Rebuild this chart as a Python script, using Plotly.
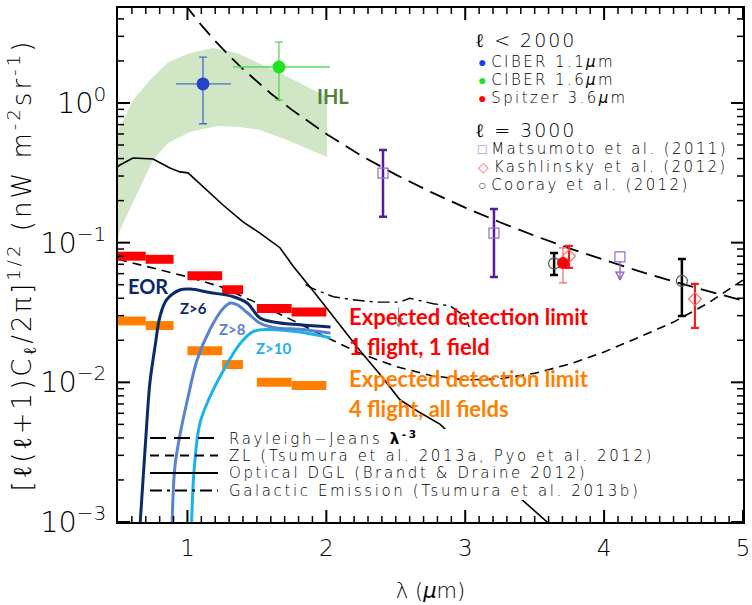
import numpy as np
import plotly.graph_objects as go

# ---------------- data ----------------
# Rayleigh-Jeans lambda^-3
rj_lam = [0.98, 1.0, 1.1, 1.2, 1.3, 1.4, 1.5, 1.6, 1.75, 2.0, 2.25, 2.5, 2.75, 3.0,
          3.25, 3.5, 3.75, 4.0, 4.25, 4.5, 4.75, 5.0]
rj_val = [5.1, 4.8, 3.61, 2.78, 2.18, 1.75, 1.42, 1.17, 0.896, 0.60, 0.42, 0.307,
          0.231, 0.178, 0.140, 0.112, 0.091, 0.075, 0.0625, 0.0527, 0.0448, 0.0384]

# Zodiacal light
zl_lam = [0.5, 0.75, 1.0, 1.25, 1.5, 1.75, 2.0, 2.25, 2.5, 2.75, 3.0, 3.25, 3.5,
          3.75, 4.0, 4.25, 4.5, 4.75, 5.0]
zl_val = [0.076, 0.066, 0.057, 0.048, 0.037, 0.028, 0.021, 0.016, 0.013, 0.0112,
          0.0104, 0.0106, 0.0116, 0.0135, 0.0165, 0.021, 0.027, 0.037, 0.054]

# Optical DGL
dgl_lam = [0.5, 0.514, 0.608, 0.752, 0.874, 0.946, 1.004, 1.112, 1.256, 1.40, 1.522,
           1.666, 1.76, 1.93, 2.10, 2.24, 2.39, 2.53, 2.67, 2.82, 3.1, 3.47, 3.59]
dgl_val = [0.35, 0.36, 0.404, 0.397, 0.342, 0.321, 0.316, 0.25, 0.186, 0.141, 0.117,
           0.092, 0.068, 0.042, 0.0258, 0.017, 0.0113, 0.0075, 0.0061, 0.005, 0.0027,
           0.00129, 0.001]

# Galactic emission
ge_lam = [1.85, 1.90, 2.05, 2.19, 2.36, 2.53, 2.60, 2.77, 2.89, 2.98, 3.03]
ge_val = [0.050, 0.047, 0.041, 0.039, 0.0375, 0.0375, 0.040, 0.0365, 0.0354, 0.0305, 0.0249]

# IHL band (upper edge left->right, then lower edge right->left)
ihl_lam = [0.5, 0.514, 0.608, 0.730, 0.860, 1.018, 1.184, 1.357, 1.573, 1.81, 2.005,
           2.005, 1.717, 1.522, 1.378, 1.213, 1.018, 0.860, 0.752, 0.658, 0.514, 0.5]
ihl_val = [0.60, 0.673, 1.05, 1.46, 1.96, 2.28, 2.48, 2.28, 1.81, 1.39, 1.10,
           0.41, 0.543, 0.641, 0.673, 0.685, 0.62, 0.517, 0.391, 0.25, 0.123, 0.105]

# EOR model curves
eor_lam = [0.66, 0.71, 0.73, 0.77, 0.80, 0.85, 0.95, 1.02, 1.16, 1.33, 1.43, 1.52,
           1.62, 1.81, 2.03]
eor_val = [0.001, 0.0056, 0.010, 0.019, 0.029, 0.039, 0.046, 0.0465, 0.044, 0.041,
           0.037, 0.029, 0.027, 0.0258, 0.0249]
z8_lam = [0.89, 0.91, 0.95, 1.0, 1.07, 1.16, 1.26, 1.31, 1.36, 1.43, 1.52, 1.64, 1.81, 2.03]
z8_val = [0.001, 0.0025, 0.0044, 0.0075, 0.0145, 0.0237, 0.034, 0.037, 0.0358, 0.0316,
          0.0266, 0.0245, 0.024, 0.0225]
z10_lam = [1.03, 1.05, 1.09, 1.16, 1.26, 1.38, 1.47, 1.57, 1.81, 2.03]
z10_val = [0.001, 0.0025, 0.0051, 0.0078, 0.0122, 0.019, 0.023, 0.0239, 0.0229, 0.0208]

# Expected detection limits (bands)
lim_lo = [0.5, 0.7, 1.0, 1.25, 1.5, 1.75]
lim_hi = [0.7, 0.9, 1.25, 1.4, 1.75, 2.0]
lim_1flight = [0.080, 0.076, 0.058, 0.046, 0.0338, 0.0319]
lim_4flight = [0.0275, 0.0255, 0.0168, 0.0134, 0.0100, 0.0095]

# CIBER (l < 2000)
ciber11 = dict(x=1.112, y=1.37, xlo=0.918, xhi=1.314, ylo=0.71, yhi=2.13)
ciber16 = dict(x=1.659, y=1.81, xlo=1.328, xhi=2.026, ylo=1.05, yhi=2.73)
# Spitzer 3.6um
spitzer = dict(x=3.704, y=0.0716, ylo=0.0516, yhi=0.0917)

# l = 3000
mats_lam = [2.408, 3.207]
mats_val = [0.315, 0.117]
mats_lo = [0.153, 0.0568]
mats_hi = [0.461, 0.174]
mats_ul_lam = [4.114]
mats_ul_val = [0.079]
mats_ul_tip = [0.054]

kash_lam = [3.747, 4.654]
kash_val = [0.080, 0.0395]
kash_lo = [0.066, 0.0245]
kash_hi = [0.0947, 0.0506]

coo_lam = [3.64, 4.56]
coo_val = [0.071, 0.0532]
coo_lo = [0.0587, 0.0299]
coo_hi = [0.0844, 0.0764]

ge_ul_lam = [2.52]
ge_ul_val = [0.037]
ge_ul_tip = [0.025]

# axis ticks
x_major = [1, 2, 3, 4, 5]
x_minor_step = 0.1
y_decades = [-3, -2, -1, 0]
y_minor_mult = [2, 3, 4, 5, 6, 7, 8, 9]

# legend texts
pt_legend = [
    ("ℓ < 2000", None, None),
    ("CIBER 1.1<i>μ</i>m", "●", "#1a3cf0"),
    ("CIBER 1.6<i>μ</i>m", "●", "#22e022"),
    ("Spitzer 3.6<i>μ</i>m", "●", "#ff0000"),
    ("ℓ = 3000", None, None),
    ("Matsumoto et al. (2011)", "□", "#9a6ad0"),
    ("Kashlinsky et al. (2012)", "◇", "#ff6a6a"),
    ("Cooray et al. (2012)", "○", "#555555"),
]
line_legend = [
    ("Rayleigh−Jeans <b>λ<sup>-3</sup></b>", "16px,8px"),
    ("ZL (Tsumura et al. 2013a, Pyo et al. 2012)", "9px,6px"),
    ("Optical DGL (Brandt & Draine 2012)", "solid"),
    ("Galactic Emission (Tsumura et al. 2013b)", "12px,5px,3px,5px"),
]

# ---------------- figure ----------------
FONT = "DejaVu Sans"
FW = 300
PX0, PX1, PY0, PY1 = 118, 743, 8, 522
XR = [0.5, 5.0]
YR = [-3, 0.68]
H = PY1 - PY0
W = PX1 - PX0


def px(x):
    return (x - PX0) / W


def py(y):
    return (PY1 - y) / H


fig = go.Figure()


def bands(lo, hi, vals):
    xs, ys = [], []
    for a, b, v in zip(lo, hi, vals):
        xs += [a, b, None]
        ys += [v, v, None]
    return xs, ys


# IHL band
fig.add_trace(go.Scatter(x=ihl_lam, y=ihl_val, mode="lines", fill="toself",
                         fillcolor="rgba(170,210,150,0.55)", line=dict(width=0),
                         hoverinfo="skip"))

# model lines
fig.add_trace(go.Scatter(x=rj_lam, y=rj_val, mode="lines",
                         line=dict(color="black", width=1.8, dash=line_legend[0][1])))
fig.add_trace(go.Scatter(x=zl_lam, y=zl_val, mode="lines",
                         line=dict(color="black", width=1.6, dash=line_legend[1][1])))
fig.add_trace(go.Scatter(x=dgl_lam, y=dgl_val, mode="lines",
                         line=dict(color="black", width=1.6)))
fig.add_trace(go.Scatter(x=ge_lam, y=ge_val, mode="lines",
                         line=dict(color="black", width=1.4, dash=line_legend[3][1])))

# detection-limit bands
bx, by = bands(lim_lo, lim_hi, lim_1flight)
fig.add_trace(go.Scatter(x=bx, y=by, mode="lines", line=dict(color="#ff0000", width=9)))
bx, by = bands(lim_lo, lim_hi, lim_4flight)
fig.add_trace(go.Scatter(x=bx, y=by, mode="lines", line=dict(color="#ff8000", width=9)))

# EOR curves
fig.add_trace(go.Scatter(x=z10_lam, y=z10_val, mode="lines",
                         line=dict(color="#1ab2ec", width=3, shape="spline")))
fig.add_trace(go.Scatter(x=z8_lam, y=z8_val, mode="lines",
                         line=dict(color="#5a82d2", width=3, shape="spline")))
fig.add_trace(go.Scatter(x=eor_lam, y=eor_val, mode="lines",
                         line=dict(color="#0c2a6a", width=3, shape="spline")))

# upper-limit arrows (shaft + arrow head)
for xs, ys, ts, col in [(mats_ul_lam, mats_ul_val, mats_ul_tip, "#8a5fc8"),
                        (ge_ul_lam, ge_ul_val, ge_ul_tip, "#999999")]:
    for x0, y0, y1 in zip(xs, ys, ts):
        fig.add_trace(go.Scatter(x=[x0, x0], y=[y0 * 0.93, y1], mode="lines",
                                 line=dict(color=col, width=1.3)))
        fig.add_trace(go.Scatter(x=[x0], y=[y1], mode="markers",
                                 marker=dict(symbol="arrow-down-open", size=8, color=col,
                                             line=dict(width=1.3))))

# l = 3000 points
fig.add_trace(go.Scatter(x=mats_lam, y=mats_val, mode="markers",
                         marker=dict(symbol="square-open", size=10, color="#9a6ad0", line=dict(width=1.2)),
                         error_y=dict(type="data", symmetric=False,
                                      array=[h - v for h, v in zip(mats_hi, mats_val)],
                                      arrayminus=[v - l for l, v in zip(mats_lo, mats_val)],
                                      color="#5a1a9c", thickness=2.5, width=4)))
fig.add_trace(go.Scatter(x=mats_ul_lam, y=mats_ul_val, mode="markers",
                         marker=dict(symbol="square-open", size=10, color="#9a6ad0", line=dict(width=1.2))))
fig.add_trace(go.Scatter(x=coo_lam, y=coo_val, mode="markers",
                         marker=dict(symbol="circle-open", size=11, color="#555555", line=dict(width=1.2)),
                         error_y=dict(type="data", symmetric=False,
                                      array=[h - v for h, v in zip(coo_hi, coo_val)],
                                      arrayminus=[v - l for l, v in zip(coo_lo, coo_val)],
                                      color="black", thickness=2.5, width=4)))
fig.add_trace(go.Scatter(x=kash_lam, y=kash_val, mode="markers",
                         marker=dict(symbol="diamond-open", size=10, color="#ff6a6a", line=dict(width=1.2)),
                         error_y=dict(type="data", symmetric=False,
                                      array=[h - v for h, v in zip(kash_hi, kash_val)],
                                      arrayminus=[v - l for l, v in zip(kash_lo, kash_val)],
                                      color="#ee2020", thickness=2.2, width=4)))

# l < 2000 points
fig.add_trace(go.Scatter(x=[spitzer["x"]], y=[spitzer["y"]], mode="markers",
                         marker=dict(symbol="circle", size=12, color="#ff0000"),
                         error_y=dict(type="data", symmetric=False,
                                      array=[spitzer["yhi"] - spitzer["y"]],
                                      arrayminus=[spitzer["y"] - spitzer["ylo"]],
                                      color="#ff6060", thickness=1.2, width=4)))
for d, mc, ec in [(ciber11, "#2542c8", "#4a6ccc"), (ciber16, "#22e022", "#5ad85a")]:
    fig.add_trace(go.Scatter(x=[d["x"]], y=[d["y"]], mode="markers",
                             marker=dict(symbol="circle", size=13, color=mc),
                             error_y=dict(type="data", symmetric=False,
                                          array=[d["yhi"] - d["y"]],
                                          arrayminus=[d["y"] - d["ylo"]],
                                          color=ec, thickness=1.3, width=4),
                             error_x=dict(type="data", symmetric=False,
                                          array=[d["xhi"] - d["x"]],
                                          arrayminus=[d["x"] - d["xlo"]],
                                          color=ec, thickness=1.3, width=0)))

# ---------------- axis tick marks (inside, on all four sides), drawn as line segments ----------------
ybot, ytop = 10 ** YR[0], 10 ** YR[1]
dec_per_px = (YR[1] - YR[0]) / H
x_per_px = (XR[1] - XR[0]) / W


def xtick_segs(vals, ln):
    xs, ys = [], []
    f = 10 ** (ln * dec_per_px)
    for v in vals:
        xs += [v, v, None, v, v, None]
        ys += [ybot, ybot * f, None, ytop, ytop / f, None]
    return xs, ys


def ytick_segs(vals, ln):
    xs, ys = [], []
    d = ln * x_per_px
    for v in vals:
        xs += [XR[0], XR[0] + d, None, XR[1], XR[1] - d, None]
        ys += [v, v, None, v, v, None]
    return xs, ys


n_minor = int(round((XR[1] - XR[0]) / x_minor_step))
x_minor = [round(XR[0] + i * x_minor_step, 3) for i in range(n_minor + 1)]
x_minor = [v for v in x_minor if v not in x_major and XR[0] < v < XR[1]]
y_major = [10.0 ** e for e in y_decades]
y_minor = [m * 10.0 ** e for e in y_decades for m in y_minor_mult if m * 10.0 ** e < ytop]

for segs, wd in [(xtick_segs(x_major, 12), 2.0), (xtick_segs(x_minor, 6), 1.5),
                 (ytick_segs(y_major, 12), 2.0), (ytick_segs(y_minor, 6), 1.5)]:
    fig.add_trace(go.Scatter(x=segs[0], y=segs[1], mode="lines", hoverinfo="skip",
                             line=dict(color="black", width=wd)))

# ---------------- legends (drawn as text + key lines) ----------------
# white background behind the line-style legend text
fig.add_shape(type="rect", xref="paper", yref="paper", layer="above",
              x0=px(224), x1=px(664), y0=py(500), y1=py(429),
              fillcolor="white", line=dict(width=0))
ly = 438
for txt, dash in line_legend:
    fig.add_shape(type="line", xref="paper", yref="paper", layer="above",
                  x0=px(150), x1=px(218), y0=py(ly), y1=py(ly),
                  line=dict(color="black", width=1.8, dash=dash))
    fig.add_annotation(text=f'<span style="letter-spacing:2.6px">{txt}</span>', x=px(228), y=py(ly),
                       xref="paper", yref="paper", xanchor="left", yanchor="middle",
                       showarrow=False, borderpad=0,
                       font=dict(family=FONT, size=15, color="black", weight=FW))
    ly += 17.5

ty = [40, 62, 80, 98, 130, 149, 167, 185]
for (txt, sym, col), yy in zip(pt_legend, ty):
    if sym is None:
        t = f'<span style="letter-spacing:2px">{txt}</span>'
        xl = 474
    else:
        t = (f'<span style="color:{col};font-size:14px">{sym}</span> '
             f'<span style="letter-spacing:2.4px">{txt}</span>')
        xl = 477
    fig.add_annotation(text=t, x=px(xl), y=py(yy), xref="paper", yref="paper",
                       xanchor="left", yanchor="middle", showarrow=False, borderpad=0,
                       font=dict(family=FONT, size=15 if sym else 19, color="black", weight=FW))

# ---------------- text labels (paper coords) ----------------
labels = [
    ("IHL", 333, 96, "#548235", 20, "center"),
    ("EOR", 148, 286, "#0c2a6a", 20, "center"),
    ("Z>6", 193, 308, "#0c2a6a", 15, "center"),
    ("Z>8", 232, 329, "#5a82d2", 15, "center"),
    ("Z>10", 273, 348, "#1ab2ec", 15, "center"),
    ("Expected detection limit", 348, 316, "#ff0000", 22, "left"),
    ("1 flight, 1 field", 348, 346, "#ff0000", 22, "left"),
    ("Expected detection limit", 348, 378, "#ff8000", 22, "left"),
    ("4 flight, all fields", 348, 408, "#ff8000", 22, "left"),
]
for txt, x, y, col, sz, al in labels:
    fig.add_annotation(text=f"<b>{txt}</b>", x=px(x), y=py(y), xref="paper", yref="paper",
                       xanchor=al, yanchor="middle", showarrow=False, borderpad=0,
                       font=dict(family="Lato, Liberation Sans, sans-serif", size=sz, color=col))

fig.update_layout(
    width=752, height=605,
    margin=dict(l=PX0, r=752 - PX1, t=PY0, b=605 - PY1, pad=0),
    paper_bgcolor="white", plot_bgcolor="white",
    font=dict(family=FONT, color="black"),
    showlegend=False,
    xaxis=dict(range=XR, dtick=1, tick0=0, ticks="", automargin=False,
               showline=True, linecolor="black", linewidth=2, mirror=True,
               showgrid=False, zeroline=False,
               tickfont=dict(size=23, family=FONT, weight=FW), ticklabelstandoff=4,
               title=dict(text="λ (<i>μ</i>m)", font=dict(size=21, family=FONT, weight=FW), standoff=24)),
    yaxis=dict(type="log", range=YR, dtick=1, ticks="", automargin=False,
               showline=True, linecolor="black", linewidth=2, mirror=True,
               showgrid=False, zeroline=False, exponentformat="power",
               labelalias={"1": "10<sup>0</sup>"},
               tickfont=dict(size=23, family=FONT, weight=FW), ticklabelstandoff=5,
               title=dict(text='<span style="letter-spacing:3px">[ℓ(ℓ+1)C<sub>ℓ</sub>/2π]<sup>1/2</sup> (nW m<sup>-2</sup>sr<sup>-1</sup>)</span>',
                          font=dict(size=26, family=FONT, weight=FW), standoff=1)),
)

fig.write_html("out.html", config={"displayModeBar": False},
               post_script="document.body.style.margin='0px';")
